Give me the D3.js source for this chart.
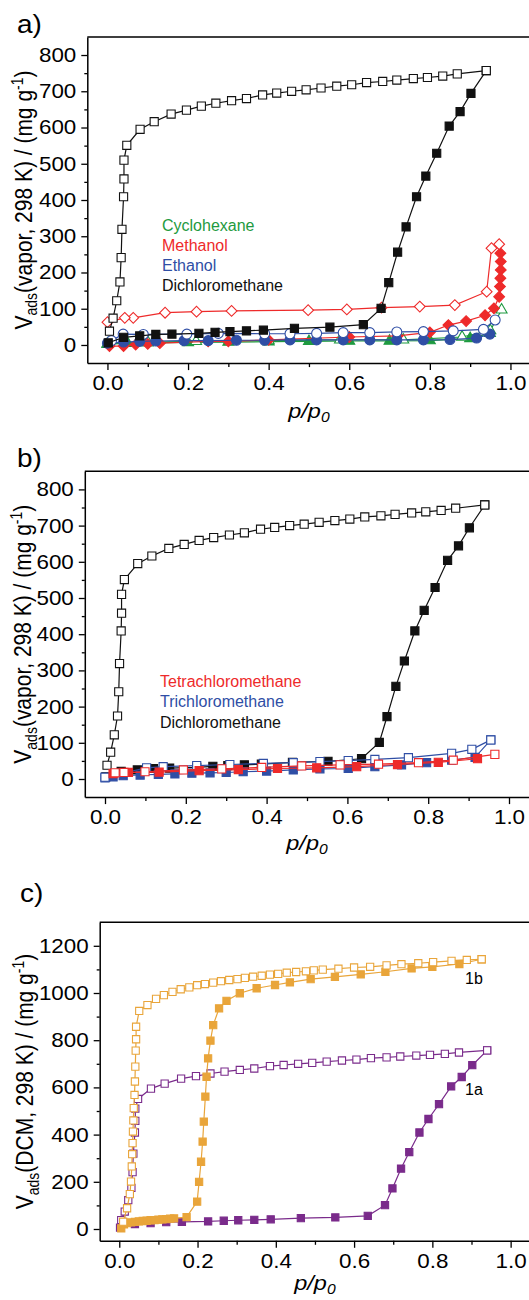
<!DOCTYPE html>
<html>
<head>
<meta charset="utf-8">
<script src="https://cdn.jsdelivr.net/npm/d3@7"></script>
<style>
  html, body { margin: 0; padding: 0; background: #fff; }
  svg { display: block; font-family: "Liberation Sans", Arial, Helvetica, sans-serif; }
</style>
</head>
<body>
<svg id="fig" width="529" height="1300"></svg>
<script>
// ---------------- tick values ----------------
const xMajorTicks = [0, 0.2, 0.4, 0.6, 0.8, 1.0];
const xMinorTicks = [0.1, 0.3, 0.5, 0.7, 0.9];
const yMajorTicksAB = [0, 100, 200, 300, 400, 500, 600, 700, 800];
const yMinorTicksAB = [50, 150, 250, 350, 450, 550, 650, 750];
const yMajorTicksC = [0, 200, 400, 600, 800, 1000, 1200];
const yMinorTicksC = [100, 300, 500, 700, 900, 1100];

// ---------------- dichloromethane on 1a (panels a, b, c) ----------------
const dcmAdsX = [0.002, 0.04, 0.08, 0.12, 0.16, 0.227, 0.267, 0.304, 0.345, 0.387, 0.464, 0.552, 0.635, 0.679, 0.698, 0.72, 0.741, 0.767, 0.79, 0.817, 0.848, 0.875, 0.902, 0.94];
const dcmAdsY = [6, 21, 25, 29, 30, 32, 35, 37, 39, 41, 46, 49, 56, 101, 172, 256, 326, 409, 466, 529, 604, 644, 694, 757];
const dcmDesX = [0.94, 0.868, 0.832, 0.794, 0.759, 0.718, 0.683, 0.643, 0.606, 0.569, 0.53, 0.493, 0.457, 0.42, 0.385, 0.345, 0.308, 0.269, 0.233, 0.196, 0.158, 0.116, 0.081, 0.048, 0.041, 0.041, 0.04, 0.036, 0.034, 0.031, 0.023, 0.014, 0.005];
const dcmDesY = [757, 748, 742, 738, 735, 731, 727, 724, 718, 714, 709, 704, 700, 695, 690, 680, 674, 667, 659, 648, 637, 616, 595, 551, 510, 458, 409, 319, 241, 174, 122, 74, 38];

// ---------------- panel a: other vapours ----------------
const cycAdsX = [0.0, 0.05, 0.1, 0.2, 0.3, 0.4, 0.5, 0.6, 0.7, 0.8, 0.9, 0.949];
const cycAdsY = [2, 5, 6, 7, 8, 9, 10, 11, 11, 12, 18, 32];
const cycDesX = [0.978, 0.95, 0.88, 0.734, 0.577, 0.4, 0.22, 0.1, 0.0];
const cycDesY = [97, 40, 22, 14, 14, 12, 10, 8, 3];

const methAdsX = [0.005, 0.04, 0.07, 0.1, 0.13, 0.25, 0.3, 0.4, 0.6, 0.72, 0.8, 0.846, 0.89, 0.937, 0.959, 0.972, 0.974, 0.975, 0.976, 0.976, 0.975];
const methAdsY = [-3, -3, 1, 3, 5, 10, 10, 14, 22, 25, 35, 55, 66, 82, 101, 133, 161, 184, 207, 230, 253];
const methDesX = [0.972, 0.953, 0.941, 0.862, 0.775, 0.68, 0.594, 0.498, 0.308, 0.221, 0.143, 0.064, 0.043, 0.0];
const methDesY = [278, 267, 147, 110, 106, 103, 98, 96, 94, 92, 89, 75, 75, 63];

const ethAdsX = [0.0, 0.04, 0.08, 0.12, 0.19, 0.25, 0.32, 0.39, 0.453, 0.519, 0.585, 0.651, 0.718, 0.784, 0.85, 0.916, 0.949];
const ethAdsY = [5, 8, 10, 11, 12, 12, 13, 13, 14, 14, 14, 14, 14, 14, 15, 19, 30];
const ethDesX = [0.962, 0.933, 0.858, 0.784, 0.718, 0.651, 0.585, 0.519, 0.453, 0.39, 0.275, 0.197, 0.089, 0.039, 0.01];
const ethDesY = [69, 43, 39, 37, 36, 34, 34, 32, 31, 31, 32, 30, 29, 30, 12];

// ---------------- panel b: chlorinated methanes ----------------
const tetAdsX = [0.02, 0.058, 0.134, 0.233, 0.33, 0.427, 0.524, 0.623, 0.724, 0.825, 0.922];
const tetAdsY = [15, 18, 19, 23, 26, 29, 31, 34, 40, 46, 56];
const tetDesX = [0.965, 0.862, 0.776, 0.677, 0.582, 0.487, 0.388, 0.289, 0.194, 0.099, 0.047, 0.025];
const tetDesY = [68, 52, 45, 41, 39, 36, 32, 28, 25, 20, 18, 17];

const triAdsX = [0.0, 0.02, 0.045, 0.087, 0.132, 0.173, 0.215, 0.26, 0.3, 0.342, 0.4, 0.466, 0.532, 0.602, 0.668, 0.734, 0.796, 0.858, 0.916, 0.955];
const triAdsY = [3, 6, 9, 11, 13, 14, 16, 17, 18, 20, 22, 25, 28, 29, 34, 39, 45, 52, 60, 108];
const triDesX = [0.955, 0.908, 0.858, 0.751, 0.668, 0.602, 0.532, 0.466, 0.392, 0.309, 0.227, 0.144, 0.103, 0.0];
const triDesY = [108, 82, 71, 59, 54, 51, 48, 45, 43, 40, 37, 34, 31, 5];

// ---------------- panel c: 1b ----------------
const b1AdsX = [0.005, 0.012, 0.02, 0.03, 0.04, 0.05, 0.06, 0.07, 0.08, 0.09, 0.1, 0.11, 0.12, 0.13, 0.14, 0.172, 0.199, 0.204, 0.209, 0.213, 0.216, 0.22, 0.223, 0.227, 0.233, 0.24, 0.255, 0.274, 0.308, 0.351, 0.398, 0.436, 0.489, 0.551, 0.617, 0.68, 0.747, 0.8, 0.869, 0.926];
const b1AdsY = [3, 20, 25, 28, 30, 32, 34, 35, 37, 38, 40, 41, 42, 44, 45, 50, 116, 200, 285, 370, 455, 561, 645, 723, 798, 864, 935, 967, 999, 1020, 1034, 1045, 1059, 1068, 1079, 1090, 1104, 1111, 1123, 1143];
const b1DesX = [0.926, 0.888, 0.849, 0.802, 0.764, 0.721, 0.683, 0.641, 0.6, 0.56, 0.52, 0.497, 0.477, 0.452, 0.428, 0.406, 0.385, 0.364, 0.342, 0.321, 0.302, 0.281, 0.26, 0.24, 0.219, 0.199, 0.179, 0.157, 0.136, 0.114, 0.094, 0.072, 0.051, 0.043, 0.043, 0.042, 0.041, 0.04, 0.039, 0.037, 0.036, 0.035, 0.034, 0.033, 0.032, 0.03, 0.027, 0.02, 0.01];
const b1DesY = [1143, 1140, 1136, 1131, 1126, 1122, 1117, 1111, 1108, 1103, 1099, 1096, 1092, 1089, 1086, 1081, 1078, 1073, 1069, 1064, 1059, 1055, 1050, 1044, 1038, 1033, 1024, 1016, 1005, 991, 975, 949, 924, 857, 804, 756, 688, 625, 568, 512, 460, 413, 364, 317, 265, 201, 148, 88, 31];

// ---------------- labels ----------------
const legendA = ["Cyclohexane", "Methanol", "Ethanol", "Dichloromethane"];
const legendB = ["Tetrachloromethane", "Trichloromethane", "Dichloromethane"];
const sampleLabels = ["1b", "1a"];

// ---------------- styling ----------------
const C = {
  black: "#111111", red: "#ee2a2a", blue: "#2f4ea5", green: "#1e9a40",
  orange: "#e9a53a", purple: "#7a2b8b"
};
const STRETCH = 1.12;      // horizontal widening of axis lettering
const FONT_TICK = 20, FONT_TITLE = 21, FONT_LEGEND = 16, FONT_PANEL = 25;

const svg = d3.select("#fig");

function plainText(g, x, y, str, size, color, stretch) {
  return g.append("text")
    .attr("transform", `translate(${x},${y}) scale(${stretch || 1},1)`)
    .attr("font-size", size).attr("fill", color || "#000")
    .text(str);
}

function makePanel(p) {
  const g = svg.append("g");
  const x = d3.scaleLinear().domain([-0.05, 1.05]).range([p.left, p.right]);
  const y = d3.scaleLinear().domain(p.yDomain).range([p.bottom, p.top]);
  const edge = Math.max(p.right, 531);

  // frame top / right (right edge lies just past the page)
  g.append("path")
    .attr("d", `M${p.left},${p.top}H${edge}V${p.bottom}`)
    .attr("fill", "none").attr("stroke", "#000").attr("stroke-width", 1.5);

  // bottom axis
  const xa = g.append("g").attr("transform", `translate(0,${p.bottom})`)
    .call(d3.axisBottom(x).tickValues(xMajorTicks).tickFormat(d3.format(".1f"))
      .tickSizeInner(7).tickSizeOuter(0).tickPadding(6));
  g.append("g").attr("transform", `translate(0,${p.bottom})`)
    .call(d3.axisBottom(x).tickValues(xMinorTicks).tickFormat("")
      .tickSizeInner(4).tickSizeOuter(0))
    .select(".domain").remove();
  // left axis
  const ya = g.append("g").attr("transform", `translate(${p.left},0)`)
    .call(d3.axisLeft(y).tickValues(p.yMajor).tickFormat(d3.format("d"))
      .tickSizeInner(6).tickSizeOuter(0).tickPadding(5));
  g.append("g").attr("transform", `translate(${p.left},0)`)
    .call(d3.axisLeft(y).tickValues(p.yMinor).tickFormat("").tickSizeInner(3).tickSizeOuter(0))
    .select(".domain").remove();

  g.selectAll("g[font-size]").attr("font-size", null).attr("font-family", null);
  g.selectAll(".domain").attr("stroke", "#000").attr("stroke-width", 1.5);
  g.selectAll(".tick line").attr("stroke", "#000").attr("stroke-width", 1.3);
  g.selectAll(".tick text").attr("fill", "#000").attr("font-size", FONT_TICK);
  xa.selectAll("text").attr("transform", `scale(${STRETCH},1)`);
  ya.selectAll("text").attr("x", -11 / STRETCH).attr("transform", `scale(${STRETCH},1)`);

  // x title  p/p0
  const xt = g.append("text")
    .attr("transform", `translate(${x(0.5)},${p.bottom + p.xTitleOffset}) scale(${STRETCH},1)`)
    .attr("text-anchor", "middle").attr("font-size", FONT_TITLE).attr("font-style", "italic");
  xt.append("tspan").text("p/p");
  xt.append("tspan").attr("dy", 4).attr("font-size", 14).text("0");

  // y title
  const yt = g.append("text")
    .attr("transform", `translate(${p.yTitleX},${(p.top + p.bottom) / 2}) scale(${STRETCH},1) rotate(-90)`)
    .attr("text-anchor", "middle").attr("font-size", FONT_TITLE);
  yt.append("tspan").text("V");
  yt.append("tspan").attr("dy", 5).attr("font-size", 14).text("ads");
  yt.append("tspan").attr("dy", -5).text(p.yTitleMid + " / (mg g");
  yt.append("tspan").attr("dy", -8).attr("font-size", 14).text("-1");
  yt.append("tspan").attr("dy", 8).text(")");

  // panel letter
  plainText(g, p.letterX, p.letterY, p.letter, FONT_PANEL, "#000", STRETCH);

  return { g, x, y };
}

const SYM = {
  square: d3.symbolSquare, circle: d3.symbolCircle, triangle: d3.symbolTriangle, diamond: d3.symbolSquare
};

function drawBranch(P, xs, ys, st, open) {
  const pts = d3.zip(xs, ys);
  P.g.append("path").datum(pts)
    .attr("fill", "none").attr("stroke", st.color).attr("stroke-width", 1.2)
    .attr("d", d3.line().x(d => P.x(d[0])).y(d => P.y(d[1])));
  const gen = d3.symbol(SYM[st.shape], st.size);
  P.g.append("g").selectAll("path").data(pts).join("path")
    .attr("transform", d => `translate(${P.x(d[0])},${P.y(d[1])})` + (st.shape === "diamond" ? " rotate(45)" : ""))
    .attr("d", gen())
    .attr("fill", open ? "#fff" : st.color)
    .attr("stroke", st.color).attr("stroke-width", 1.1);
}

function drawSeries(P, ads, des, st) {
  drawBranch(P, ads[0], ads[1], st, false);
  drawBranch(P, des[0], des[1], st, true);
}

// ================= panel a =================
const PA = makePanel({
  left: 87.3, right: 530.6, top: 36.9, bottom: 363.1, yDomain: [-50, 850],
  yMajor: yMajorTicksAB, yMinor: yMinorTicksAB, xTitleOffset: 55, yTitleX: 31.5,
  yTitleMid: "(vapor, 298 K)", letter: "a)", letterX: 17, letterY: 33
});
drawSeries(PA, [cycAdsX, cycAdsY], [cycDesX, cycDesY], { color: C.green, shape: "triangle", size: 52 });
drawSeries(PA, [methAdsX, methAdsY], [methDesX, methDesY], { color: C.red, shape: "diamond", size: 58 });
drawSeries(PA, [ethAdsX, ethAdsY], [ethDesX, ethDesY], { color: C.blue, shape: "circle", size: 78 });
drawSeries(PA, [dcmAdsX, dcmAdsY], [dcmDesX, dcmDesY], { color: C.black, shape: "square", size: 66 });
[C.green, C.red, C.blue, C.black].forEach((c, i) =>
  plainText(PA.g, 162, 230.5 + i * 20.2, legendA[i], FONT_LEGEND, c));

// ================= panel b =================
const PB = makePanel({
  left: 84.8, right: 529.2, top: 471.3, bottom: 797.1, yDomain: [-50, 850],
  yMajor: yMajorTicksAB, yMinor: yMinorTicksAB, xTitleOffset: 53, yTitleX: 31,
  yTitleMid: "(vapor, 298 K)", letter: "b)", letterX: 17, letterY: 467
});
drawSeries(PB, [dcmAdsX, dcmAdsY], [dcmDesX, dcmDesY], { color: C.black, shape: "square", size: 66 });
drawSeries(PB, [triAdsX, triAdsY], [triDesX, triDesY], { color: C.blue, shape: "square", size: 66 });
drawSeries(PB, [tetAdsX, tetAdsY], [tetDesX, tetDesY], { color: C.red, shape: "square", size: 66 });
[C.red, C.blue, C.black].forEach((c, i) =>
  plainText(PB.g, 160, 686.7 + i * 20.5, legendB[i], FONT_LEGEND, c));

// ================= panel c =================
const PC = makePanel({
  left: 99.7, right: 530.2, top: 922.2, bottom: 1240.8, yDomain: [-50, 1300],
  yMajor: yMajorTicksC, yMinor: yMinorTicksC, xTitleOffset: 49, yTitleX: 33,
  yTitleMid: "(DCM, 298 K)", letter: "c)", letterX: 20, letterY: 902
});
drawSeries(PC, [dcmAdsX, dcmAdsY], [dcmDesX, dcmDesY], { color: C.purple, shape: "square", size: 52 });
drawSeries(PC, [b1AdsX, b1AdsY], [b1DesX, b1DesY], { color: C.orange, shape: "square", size: 52 });
plainText(PC.g, 465, 984, sampleLabels[0], 16, "#000");
plainText(PC.g, 465, 1095, sampleLabels[1], 16, "#000");
</script>
</body>
</html>
